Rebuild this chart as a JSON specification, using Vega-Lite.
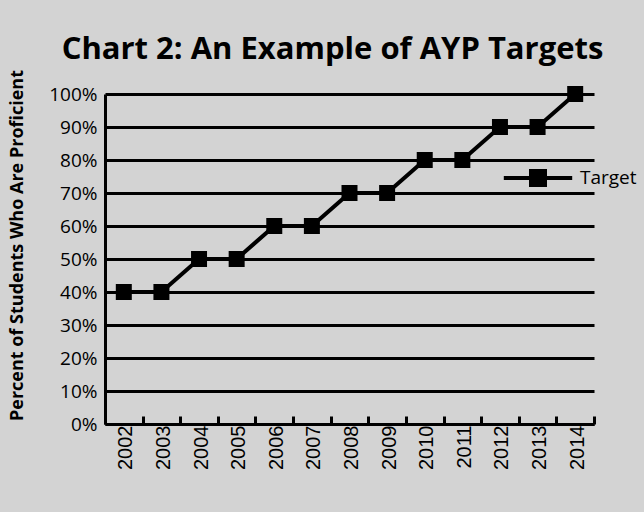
{
  "$schema": "https://vega.github.io/schema/vega-lite/v6.json",
  "autosize": {"type": "none"},
  "width": 489,
  "height": 330,
  "padding": {"left": 105, "top": 94, "right": 50, "bottom": 88},
  "background": "#d3d3d3",
  "title": {
    "text": "Chart 2: An Example of AYP Targets",
    "font": "Open Sans",
    "fontSize": 31,
    "fontWeight": "bold",
    "color": "#000000",
    "anchor": "middle",
    "frame": "group",
    "baseline": "alphabetic",
    "offset": 37,
    "dx": -17,
    "dy": 58
  },
  "config": {
    "view": {"stroke": null},
    "font": "Open Sans"
  },
  "data": {
    "values": [
      {"year": "2002", "value": 0.4, "series": "Target"},
      {"year": "2003", "value": 0.4, "series": "Target"},
      {"year": "2004", "value": 0.5, "series": "Target"},
      {"year": "2005", "value": 0.5, "series": "Target"},
      {"year": "2006", "value": 0.6, "series": "Target"},
      {"year": "2007", "value": 0.6, "series": "Target"},
      {"year": "2008", "value": 0.7, "series": "Target"},
      {"year": "2009", "value": 0.7, "series": "Target"},
      {"year": "2010", "value": 0.8, "series": "Target"},
      {"year": "2011", "value": 0.8, "series": "Target"},
      {"year": "2012", "value": 0.9, "series": "Target"},
      {"year": "2013", "value": 0.9, "series": "Target"},
      {"year": "2014", "value": 1.0, "series": "Target"}
    ]
  },
  "encoding": {
    "x": {
      "field": "year",
      "type": "ordinal",
      "scale": {"paddingInner": 0, "paddingOuter": 0},
      "axis": {
        "title": null,
        "labelAngle": 270,
        "labelAlign": "right",
        "labelBaseline": "middle",
        "labelFont": "Liberation Sans",
        "labelFontSize": 20,
        "labelColor": "#000000",
        "labelPadding": 9,
        "labelOffset": 2,
        "domainColor": "#000000",
        "domainWidth": 3,
        "tickColor": "#000000",
        "tickWidth": 3,
        "tickSize": -8,
        "tickBand": "extent",
        "grid": false
      }
    },
    "y": {
      "field": "value",
      "type": "quantitative",
      "scale": {"domain": [0, 1], "nice": false},
      "axis": {
        "title": "Percent of Students Who Are Proficient",
        "titleFont": "Open Sans",
        "titleFontSize": 18,
        "titleFontWeight": "bold",
        "titleColor": "#000000",
        "titleAngle": 270,
        "titleX": -88,
        "titleY": 151,
        "titleAlign": "center",
        "titleBaseline": "middle",
        "format": "~%",
        "values": [0, 0.1, 0.2, 0.3, 0.4, 0.5, 0.6, 0.7, 0.8, 0.9, 1.0],
        "labelFont": "Open Sans",
        "labelFontSize": 19,
        "labelColor": "#000000",
        "labelPadding": 8,
        "ticks": false,
        "domainColor": "#000000",
        "domainWidth": 3,
        "grid": true,
        "gridColor": "#000000",
        "gridWidth": 3,
        "gridOpacity": 1
      }
    },
    "color": {
      "field": "series",
      "type": "nominal",
      "scale": {"range": ["#000000"]},
      "legend": {
        "title": null,
        "orient": "none",
        "legendX": 415,
        "legendY": 66,
        "symbolType": "M-1.9,-0.11H1.9V0.11H-1.9Z M-0.5,-0.5H0.5V0.5H-0.5Z",
        "symbolSize": 1296,
        "symbolFillColor": "#000000",
        "symbolStrokeColor": "#000000",
        "symbolStrokeWidth": 0,
        "labelFont": "Open Sans",
        "labelFontSize": 19,
        "labelColor": "#000000",
        "labelOffset": 24
      }
    }
  },
  "layer": [
    {"mark": {"type": "line", "strokeWidth": 4, "color": "#000000"}},
    {"mark": {"type": "square", "size": 256, "filled": true, "opacity": 1, "color": "#000000"}}
  ]
}
